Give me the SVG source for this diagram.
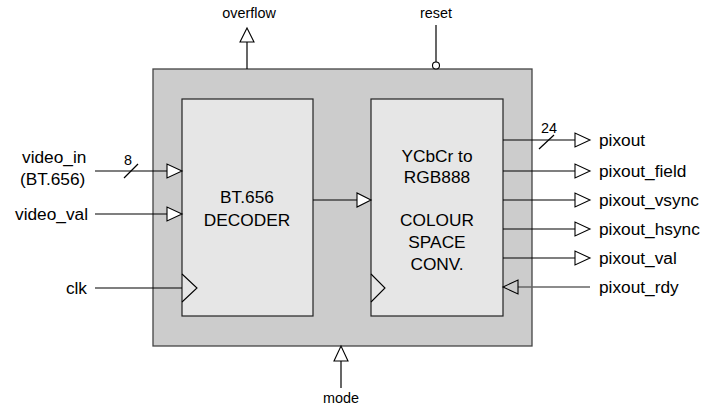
<svg xmlns="http://www.w3.org/2000/svg" width="714" height="407" viewBox="0 0 714 407">
<style>
text{font-family:"Liberation Sans",Arial,sans-serif;fill:#000}
.big{font-size:17.3px}
.sm{font-size:14.4px}
.mid{text-anchor:middle}
.end{text-anchor:end}
.ln{stroke:#000;stroke-width:1.2;fill:none}
.gl{stroke:#666;stroke-width:1.5;fill:none}
.tri{stroke:#000;stroke-width:1.1;fill:#fff}
.trig{stroke:#000;stroke-width:1.1;fill:none}
</style>
<rect width="714" height="407" fill="#fff"/>
<g id="outer">
<rect x="153" y="69" width="379" height="277" fill="#cccccc" stroke="#444" stroke-width="1.3"/>
</g>
<g id="decoder">
<rect x="182" y="99" width="131" height="217" fill="#e6e6e6" stroke="#222" stroke-width="1.2"/>
<text class="big mid" x="247" y="203">BT.656</text>
<text class="big mid" x="247" y="226">DECODER</text>
<polyline class="trig" points="182,274 197,288 182,302"/>
</g>
<g id="csc">
<rect x="371" y="99" width="132" height="217" fill="#e6e6e6" stroke="#222" stroke-width="1.2"/>
<text class="big mid" x="437" y="162">YCbCr to</text>
<text class="big mid" x="437" y="183">RGB888</text>
<text class="big mid" x="437" y="226">COLOUR</text>
<text class="big mid" x="437" y="248">SPACE</text>
<text class="big mid" x="437" y="270">CONV.</text>
<polyline class="trig" points="371,274 385,288 371,302"/>
</g>
<g id="labels">
<text class="sm mid" x="249" y="18">overflow</text>
<text class="sm mid" x="436" y="18">reset</text>
<text class="sm mid" x="341" y="403">mode</text>
<text class="big" x="22" y="163">video_in</text>
<text class="big" x="20" y="185">(BT.656)</text>
<text class="big end" x="88" y="220">video_val</text>
<text class="big end" x="87" y="294">clk</text>
<text class="big" x="599" y="146">pixout</text>
<text class="big" x="599" y="177">pixout_field</text>
<text class="big" x="599" y="206">pixout_vsync</text>
<text class="big" x="599" y="235">pixout_hsync</text>
<text class="big" x="599" y="264">pixout_val</text>
<text class="big" x="599" y="293">pixout_rdy</text>
<text class="sm" x="124" y="165">8</text>
<text class="sm" x="541" y="133">24</text>
</g>
<g id="connectors">
<line class="ln" x1="247" y1="69" x2="247" y2="42"/>
<polygon class="tri" points="240,42 254,42 247,28"/>
<line class="ln" x1="436" y1="25" x2="436" y2="62"/>
<circle cx="436" cy="65.5" r="3.5" fill="#fff" stroke="#000" stroke-width="1.1"/>
<line class="ln" x1="341" y1="361" x2="341" y2="388"/>
<polygon class="tri" points="334,361 348,361 341,346"/>
<line class="ln" x1="95" y1="171" x2="167" y2="171"/>
<polygon class="tri" points="167,164 167,178 182,171"/>
<line class="ln" x1="124" y1="178" x2="138" y2="164"/>
<line class="ln" x1="95" y1="214" x2="167" y2="214"/>
<polygon class="tri" points="167,207 167,221 182,214"/>
<line class="ln" x1="95" y1="288" x2="182" y2="288"/>
<line class="ln" x1="313" y1="200" x2="357" y2="200"/>
<polygon class="tri" points="357,193 357,207 371,200"/>
<line class="ln" x1="503" y1="140" x2="575" y2="140"/>
<polygon class="tri" points="575,133 575,147 590,140"/>
<line class="ln" x1="539" y1="149" x2="554" y2="135"/>
<line class="ln" x1="503" y1="171" x2="575" y2="171"/>
<polygon class="tri" points="575,164 575,178 590,171"/>
<line class="ln" x1="503" y1="200" x2="575" y2="200"/>
<polygon class="tri" points="575,193 575,207 590,200"/>
<line class="ln" x1="503" y1="229" x2="575" y2="229"/>
<polygon class="tri" points="575,222 575,236 590,229"/>
<line class="ln" x1="503" y1="258" x2="575" y2="258"/>
<polygon class="tri" points="575,251 575,265 590,258"/>
<line class="gl" x1="518" y1="287" x2="590" y2="287"/>
<polygon class="tri" points="518,280 518,294 503,287" style="fill:#cccccc"/>
</g>
</svg>
